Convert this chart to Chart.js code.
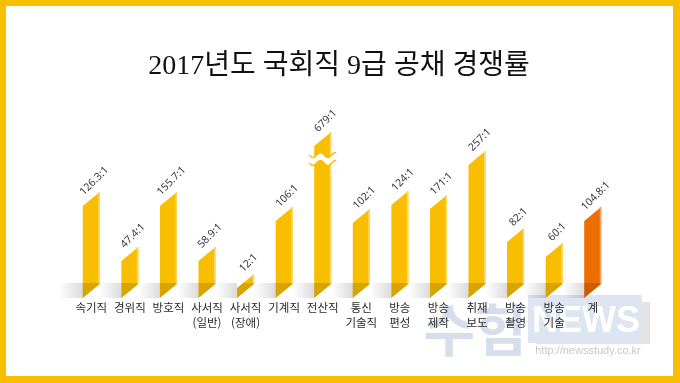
<!DOCTYPE html>
<html lang="ko">
<head>
<meta charset="utf-8">
<title>2017년도 국회직 9급 공채 경쟁률</title>
<script src="https://cdn.jsdelivr.net/npm/chart.js@4.4.1/dist/chart.umd.min.js"></script>
<style>
  html, body { margin: 0; padding: 0; background: #fff; }
  #chart { display: block; }
</style>
</head>
<body>
<canvas id="chart" width="680" height="383"></canvas>
<script>
const categories = [
    ['속기직'], ['경위직'], ['방호직'], ['사서직', '(일반)'], ['사서직', '(장애)'],
    ['기계직'], ['전산직'], ['통신', '기술직'], ['방송', '편성'], ['방송', '제작'],
    ['취재', '보도'], ['방송', '촬영'], ['방송', '기술'], ['계']
];
const ratios = [126.3, 47.4, 155.7, 58.9, 12, 106, 679, 102, 124, 171, 257, 82, 60, 104.8];
// bar heights as drawn in the infographic (the artwork is not to scale with the ratios)
const barLevels = [92, 37, 92, 37, 10, 77, 152, 75, 93, 89, 133, 56, 41, 77];
const brokenBars = [6];      // 전산직 bar is cut with a wavy break
const totalIndex = 13;       // '계' is drawn in orange

const YELLOW = '#F9BE00';
const YELLOW_EDGE = '#FCD869';
const ORANGE = '#EC6D00';
const ORANGE_EDGE = '#F4A262';
const SLANT = 14;

function barShape(ctx, x0, x1, top, base) {
    ctx.beginPath();
    ctx.moveTo(x0, base);
    ctx.lineTo(x0, top);
    ctx.lineTo(x1, top - SLANT);
    ctx.lineTo(x1, base - SLANT);
    ctx.closePath();
}

function wave(xa, xb, y, reverse) {
    const pts = [];
    for (let x = xa; x <= xb; x += 1) {
        pts.push([x, y + 2.5 * Math.sin((x - xa) / 15 * Math.PI * 2)]);
    }
    if (reverse) pts.reverse();
    return pts;
}

function drawWatermark(ctx) {
    ctx.save();
    ctx.fillStyle = '#E4E4E4';
    ctx.fillRect(536, 302, 114, 42);
    ctx.fillStyle = '#DCE5F0';
    ctx.fillRect(528, 295, 114, 48);
    ctx.textAlign = 'center';
    ctx.textBaseline = 'middle';
    ctx.fillStyle = '#fff';
    ctx.font = 'bold 36px "Liberation Sans"';
    ctx.fillText('NEWS', 586, 322);
    ctx.fillStyle = '#D5DEEA';
    ctx.font = 'bold 56px "Noto Sans CJK KR"';
    ctx.fillText('수험', 475, 330);
    ctx.fillStyle = '#C8C8C8';
    ctx.font = '11px "Liberation Sans"';
    ctx.fillText('http://newsstudy.co.kr', 588, 351);
    ctx.restore();
}

const infographic = {
    id: 'infographic',
    beforeDraw(chart) {
        const ctx = chart.ctx;
        ctx.save();
        ctx.fillStyle = '#fff';
        ctx.fillRect(0, 0, chart.width, chart.height);
        ctx.restore();
        drawWatermark(ctx);
    },
    beforeDatasetDraw() {
        return false;
    },
    afterDatasetsDraw(chart) {
        const ctx = chart.ctx;
        const area = chart.chartArea;
        const bars = chart.getDatasetMeta(0).data.map(el => el.getProps(['x', 'y', 'base', 'width'], true));

        ctx.save();
        // bars
        bars.forEach((b, i) => {
            const x0 = b.x - b.width / 2, x1 = b.x + b.width / 2;
            barShape(ctx, x0, x1, b.y, b.base);
            ctx.fillStyle = i === totalIndex ? ORANGE : YELLOW;
            ctx.fill();
            ctx.strokeStyle = i === totalIndex ? ORANGE_EDGE : YELLOW_EDGE;
            ctx.lineWidth = 1.5;
            ctx.beginPath();
            ctx.moveTo(x1 - 0.75, b.y - SLANT);
            ctx.lineTo(x1 - 0.75, b.base - SLANT);
            ctx.stroke();
        });

        // floor shadow band
        const base = bars[0].base;
        ctx.save();
        ctx.beginPath();
        ctx.rect(area.left - 15, base - 15, area.right - area.left + 30, 15);
        ctx.clip();
        let prev = area.left - 14;
        bars.forEach(b => {
            const x0 = b.x - b.width / 2, x1 = b.x + b.width / 2;
            const g = ctx.createLinearGradient(prev, 0, x0, 0);
            g.addColorStop(0, 'rgba(0,0,0,0)');
            g.addColorStop(1, 'rgba(0,0,0,0.14)');
            ctx.fillStyle = g;
            ctx.fillRect(prev, base - 15, x0 - prev, 15);
            barShape(ctx, x0, x1, b.y, b.base);
            ctx.fillStyle = 'rgba(0,0,0,0.13)';
            ctx.fill();
            prev = x1;
        });
        ctx.restore();

        // wavy break
        brokenBars.forEach(i => {
            const b = bars[i];
            const x0 = b.x - b.width / 2, x1 = b.x + b.width / 2;
            const yc = b.y + 13;
            const upper = wave(x0 - 5, x1 + 5, yc - 4, false);
            const lower = wave(x0 - 5, x1 + 5, yc + 4, true);
            ctx.beginPath();
            upper.concat(lower).forEach((p, k) => k ? ctx.lineTo(p[0], p[1]) : ctx.moveTo(p[0], p[1]));
            ctx.closePath();
            ctx.fillStyle = '#fff';
            ctx.fill();
            ctx.strokeStyle = YELLOW;
            ctx.lineWidth = 1.5;
            [upper, lower].forEach(line => {
                ctx.beginPath();
                line.forEach((p, k) => k ? ctx.lineTo(p[0], p[1]) : ctx.moveTo(p[0], p[1]));
                ctx.stroke();
            });
        });

        // value labels
        ctx.fillStyle = '#3a3a3a';
        ctx.font = '10.5px "Noto Sans"';
        ctx.textAlign = 'center';
        ctx.textBaseline = 'middle';
        bars.forEach((b, i) => {
            ctx.save();
            ctx.translate(b.x + 3, b.y - 25);
            ctx.rotate(-Math.PI / 4);
            ctx.fillText(ratios[i] + ':1', 0, 0);
            ctx.restore();
        });

        // category labels
        ctx.fillStyle = '#2a2a2a';
        ctx.font = '11.5px "Noto Sans CJK KR"';
        bars.forEach((b, i) => {
            categories[i].forEach((line, k) => {
                ctx.fillText(line, b.x, base + 10 + k * 15);
            });
        });
        ctx.restore();
    },
    afterDraw(chart) {
        const ctx = chart.ctx;
        const w = chart.width, h = chart.height;
        ctx.save();
        ctx.fillStyle = YELLOW;
        ctx.fillRect(0, 0, w, 6);
        ctx.fillRect(0, 0, 6, h);
        ctx.fillRect(w - 7, 0, 7, h);
        ctx.fillRect(0, h - 7, w, 7);

        ctx.fillStyle = '#111';
        ctx.font = '28px "Liberation Serif", "Noto Sans CJK KR"';
        ctx.textAlign = 'center';
        ctx.textBaseline = 'middle';
        ctx.fillText('2017년도 국회직 9급 공채 경쟁률', 339, 67);
        ctx.restore();
    }
};

new Chart(document.getElementById('chart').getContext('2d'), {
    type: 'bar',
    data: {
        labels: categories,
        datasets: [{
            data: barLevels,
            backgroundColor: YELLOW,
            categoryPercentage: 1,
            barPercentage: 0.441
        }]
    },
    options: {
        responsive: false,
        animation: false,
        layout: {
            padding: { left: 72, right: 68, top: 98, bottom: 85 }
        },
        plugins: {
            legend: { display: false },
            tooltip: { enabled: false }
        },
        scales: {
            x: { display: false },
            y: { display: false, min: 0, max: 200 }
        }
    },
    plugins: [infographic]
});
</script>
</body>
</html>
